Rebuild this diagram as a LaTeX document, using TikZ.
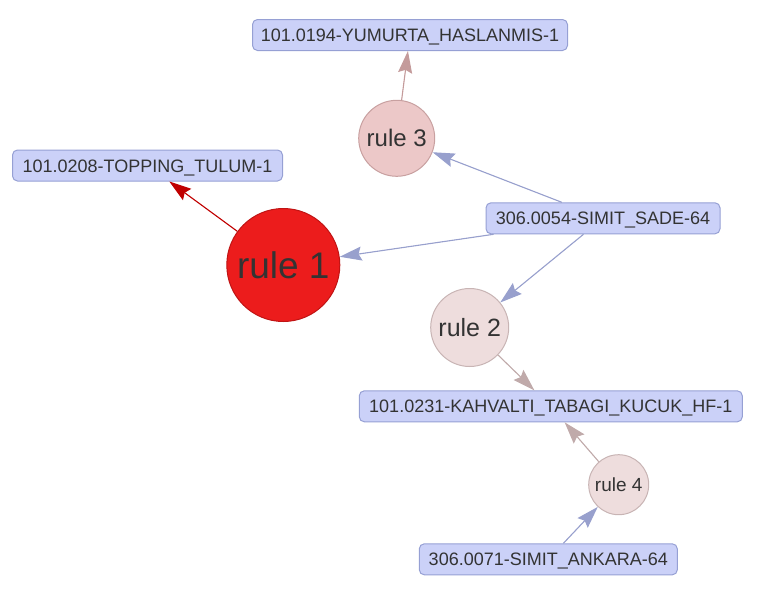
\documentclass[tikz,border=0pt]{standalone}
\usepackage{fontspec}
\setmainfont{Liberation Sans}
\usetikzlibrary{arrows.meta}
\definecolor{boxfill}{RGB}{203,209,248}
\definecolor{boxdraw}{RGB}{150,160,212}
\definecolor{txt}{RGB}{51,51,51}
\definecolor{r1fill}{RGB}{236,28,28}
\definecolor{r1draw}{RGB}{192,20,20}
\definecolor{r3fill}{RGB}{236,200,200}
\definecolor{r3draw}{RGB}{200,160,160}
\definecolor{r2fill}{RGB}{238,221,221}
\definecolor{r2draw}{RGB}{200,180,180}
\definecolor{eblue}{RGB}{152,160,205}
\definecolor{ebrown}{RGB}{192,170,170}
\definecolor{erose}{RGB}{196,155,155}
\definecolor{ered}{RGB}{192,0,0}
\tikzset{
  itembox/.style={draw=boxdraw, fill=boxfill, rounded corners=5pt, line width=1pt,
    text=txt, font=\fontsize{18}{20}\selectfont, inner xsep=4pt, inner ysep=0pt,
    text height=13pt, text depth=0pt, minimum height=31pt},
  rulecirc/.style={circle, line width=1pt, text=txt, inner sep=0pt},
  link/.style={line width=1.1pt, -{Stealth[length=22pt,width=14pt,inset=3pt]}},
}
\begin{document}
\begin{tikzpicture}[x=1pt,y=-1pt]
\useasboundingbox (0,0) rectangle (757,592);
% item boxes
\node[itembox, minimum width=315pt] (yum) at (410,35) {101.0194-YUMURTA\_HASLANMIS-1};
\node[itembox, minimum width=270pt] (top) at (147.5,165.5) {101.0208-TOPPING\_TULUM-1};
\node[itembox, minimum width=234pt] (sade) at (603,218.3) {306.0054-SIMIT\_SADE-64};
\node[itembox, minimum width=383pt] (kah) at (550.8,406.3) {101.0231-KAHVALTI\_TABAGI\_KUCUK\_HF-1};
\node[itembox, minimum width=258pt] (ank) at (548.3,559.3) {306.0071-SIMIT\_ANKARA-64};
% rule circles
\node[rulecirc, fill=r1fill, draw=r1draw, minimum size=113pt, font=\fontsize{37}{40}\selectfont] (r1) at (283.3,265) {rule 1};
\node[rulecirc, fill=r3fill, draw=r3draw, minimum size=76pt, font=\fontsize{24}{28}\selectfont] (r3) at (396.7,138.3) {rule 3};
\node[rulecirc, fill=r2fill, draw=r2draw, minimum size=78pt, font=\fontsize{25}{28}\selectfont] (r2) at (469.7,327.5) {rule 2};
\node[rulecirc, fill=r2fill, draw=r2draw, minimum size=60pt, font=\fontsize{19}{22}\selectfont] (r4) at (618.7,484.7) {rule 4};
% connectors
\draw[link, draw=ered, fill=ered] (r1) -- (top);
\draw[link, draw=eblue, fill=eblue] (sade) -- (r1);
\draw[link, draw=eblue, fill=eblue] (sade) -- (r3);
\draw[link, draw=eblue, fill=eblue] (sade) -- (r2);
\draw[link, draw=erose, fill=erose] (r3) -- (yum);
\draw[link, draw=ebrown, fill=ebrown] (r2) -- (kah);
\draw[link, draw=ebrown, fill=ebrown] (r4) -- (kah);
\draw[link, draw=eblue, fill=eblue] (ank) -- (r4);
\end{tikzpicture}
\end{document}
